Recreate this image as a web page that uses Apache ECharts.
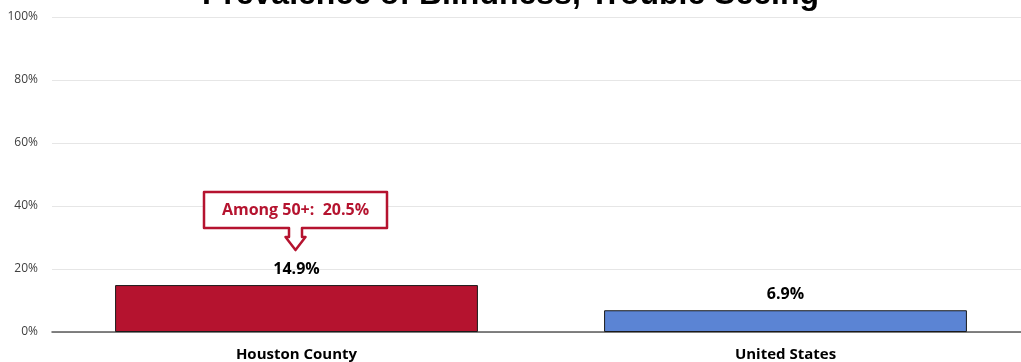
<!DOCTYPE html>
<html>
<head>
<meta charset="utf-8">
<script src="https://cdn.jsdelivr.net/npm/echarts@6/dist/echarts.min.js"></script>
<style>
html,body{margin:0;padding:0;background:#fff;}
#chart{width:1021px;height:362px;}
</style>
</head>
<body>
<div id="chart"></div>
<script>
const titleText = 'Prevalence of Blindness, Trouble Seeing';
const categories = ['Houston County', 'United States'];
const values = [14.9, 6.9];
const barColors = ['#b5132f', '#5b84d4'];
const yTickValues = [0, 20, 40, 60, 80, 100];
const calloutText = 'Among 50+:  20.5%';
const calloutIndex = 0;

const chart = echarts.init(document.getElementById('chart'));
const labelFont = '"Open Sans", "Noto Sans", sans-serif';

chart.setOption({
  animation: false,
  title: {
    text: titleText,
    left: 'center',
    top: -26,
    textStyle: { fontFamily: '"Liberation Sans", Arial, sans-serif', fontSize: 32, fontWeight: 'bold', color: '#000' }
  },
  grid: { left: 52, width: 978, top: 17, bottom: 30, containLabel: false, outerBoundsMode: 'none' },
  xAxis: {
    type: 'category',
    data: categories,
    axisTick: { show: false },
    axisLine: { lineStyle: { color: '#595959', width: 1.5 } },
    axisLabel: { fontFamily: labelFont, fontWeight: 'bold', fontSize: 15, color: '#000', margin: 15 }
  },
  yAxis: {
    type: 'value',
    min: yTickValues[0],
    max: yTickValues[yTickValues.length - 1],
    interval: yTickValues[1] - yTickValues[0],
    axisLabel: { formatter: '{value}%', fontFamily: labelFont, fontSize: 12, color: '#404040', margin: 14 },
    splitLine: { lineStyle: { color: '#e6e6e6', width: 1 } },
    axisLine: { show: false },
    axisTick: { show: false }
  },
  series: [{
    type: 'bar',
    barWidth: '74.2%',
    data: values.map((v, i) => ({ value: v, itemStyle: { color: barColors[i] } })),
    itemStyle: { borderColor: '#1a1a1a', borderWidth: 1 },
    label: {
      show: true,
      position: 'top',
      distance: 8,
      formatter: p => p.value.toFixed(1) + '%',
      fontFamily: labelFont,
      fontWeight: 'bold',
      fontSize: 16,
      color: '#000'
    }
  }]
});

function drawCallout() {
  const pt = chart.convertToPixel({ seriesIndex: 0 }, [calloutIndex, values[calloutIndex]]);
  const cx = pt[0] - 1;
  const tipY = pt[1] - 35;
  const halfW = 91.5;
  const L = cx - halfW, R = cx + halfW, T = tipY - 58, B = tipY - 22;
  const sh = 6.5, hh = 10, neck = tipY - 13;
  const points = [
    [L, T], [R, T], [R, B], [cx + sh, B], [cx + sh, neck], [cx + hh, neck],
    [cx, tipY], [cx - hh, neck], [cx - sh, neck], [cx - sh, B], [L, B]
  ];
  chart.setOption({
    graphic: [
      {
        type: 'polygon',
        z: 100,
        shape: { points: points },
        style: { fill: '#fff', stroke: barColors[calloutIndex], lineWidth: 2.5, lineJoin: 'round' }
      },
      {
        type: 'text',
        z: 101,
        x: cx,
        y: (T + B) / 2,
        style: {
          text: calloutText,
          fill: barColors[calloutIndex],
          font: 'bold 16px ' + labelFont,
          align: 'center',
          verticalAlign: 'middle'
        }
      }
    ]
  });
}
drawCallout();
</script>
</body>
</html>
